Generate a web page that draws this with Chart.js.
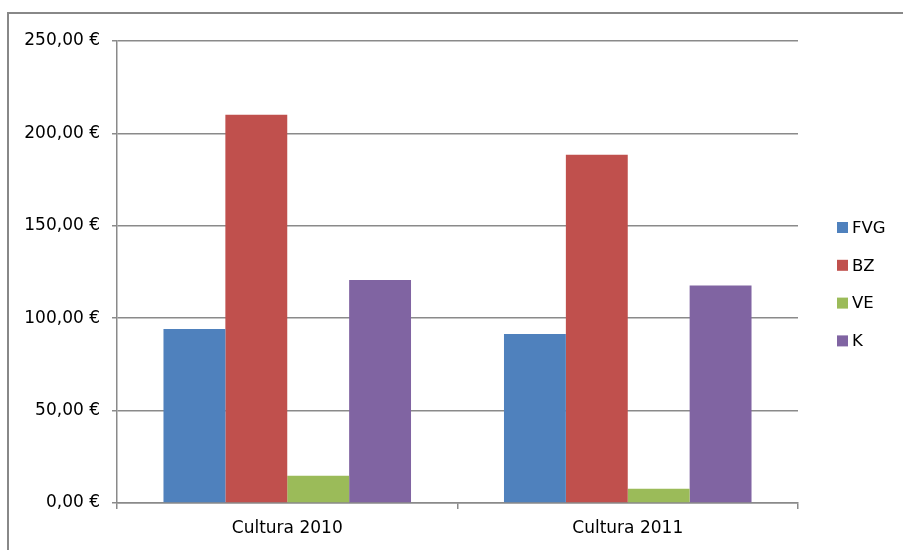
<!DOCTYPE html>
<html>
<head>
<meta charset="utf-8">
<script src="https://cdn.jsdelivr.net/npm/chart.js@4/dist/chart.umd.min.js"></script>
<style>
  html, body { margin: 0; background: #fff; overflow: hidden; }
  #chart { display: block; }
</style>
</head>
<body>
<canvas id="chart" width="903" height="550"></canvas>
<script>
const categories = ['Cultura 2010', 'Cultura 2011'];
const seriesNames = ['FVG', 'BZ', 'VE', 'K'];
const fvgValues = [94.2, 91.4];
const bzValues = [210.1, 188.5];
const veValues = [14.8, 7.7];
const kValues = [120.7, 117.7];
const yTicks = [0, 50, 100, 150, 200, 250];

const seriesColors = ['#4F81BD', '#C0504D', '#9BBB59', '#8064A2'];
const axisGray = '#8a8a8a';
const fontFamily = '"DejaVu Sans", Verdana, sans-serif';

// euro format with comma decimals, e.g. 150,00 €
function euro(v) {
    return v.toFixed(2).replace('.', ',') + ' €';
}

// outer chart frame (only top and left edges fall inside the canvas)
const outerFrame = {
    id: 'outerFrame',
    beforeDraw(chart) {
        const ctx = chart.ctx;
        ctx.save();
        ctx.strokeStyle = '#888';
        ctx.lineWidth = 2;
        ctx.beginPath();
        ctx.moveTo(8, chart.height + 5);
        ctx.lineTo(8, 13);
        ctx.lineTo(chart.width + 5, 13);
        ctx.stroke();
        ctx.restore();
    }
};

// legend drawn on the right, boxes + labels stacked vertically
const sideLegend = {
    id: 'sideLegend',
    afterDraw(chart) {
        const ctx = chart.ctx;
        ctx.save();
        ctx.font = '16.5px ' + fontFamily;
        ctx.textBaseline = 'middle';
        ctx.textAlign = 'left';
        chart.data.datasets.forEach((ds, i) => {
            const y = 227.5 + i * 37.8;
            ctx.fillStyle = ds.backgroundColor;
            ctx.fillRect(837, y - 5.5, 11, 11);
            ctx.fillStyle = '#000';
            ctx.fillText(ds.label, 852, y + 1);
        });
        ctx.restore();
    }
};

const valueLists = [fvgValues, bzValues, veValues, kValues];

new Chart(document.getElementById('chart'), {
    type: 'bar',
    data: {
        labels: categories,
        datasets: seriesNames.map((name, i) => ({
            label: name,
            data: valueLists[i],
            backgroundColor: seriesColors[i],
            borderWidth: 0,
            categoryPercentage: 0.727,
            barPercentage: 1.0
        }))
    },
    options: {
        responsive: false,
        animation: false,
        layout: { padding: { left: 0, top: 41, right: 105, bottom: 0 } },
        plugins: {
            legend: { display: false },
            tooltip: { enabled: false }
        },
        scales: {
            x: {
                grid: { drawOnChartArea: false, drawTicks: true, tickLength: 6, color: axisGray, lineWidth: 1.5, offset: true },
                border: { color: axisGray, width: 1.5 },
                ticks: { color: '#000', font: { family: fontFamily, size: 17 }, padding: 9 },
                afterFit(scale) { scale.height = 47; }
            },
            y: {
                min: 0,
                max: 250,
                afterBuildTicks(scale) { scale.ticks = yTicks.map(v => ({ value: v })); },
                grid: { color: axisGray, lineWidth: 1.5, tickLength: 5 },
                border: { color: axisGray, width: 1.5 },
                ticks: {
                    color: '#000',
                    font: { family: fontFamily, size: 17 },
                    padding: 12,
                    callback: v => euro(v)
                },
                afterFit(scale) { scale.width = 117; }
            }
        }
    },
    plugins: [outerFrame, sideLegend]
});
</script>
</body>
</html>
